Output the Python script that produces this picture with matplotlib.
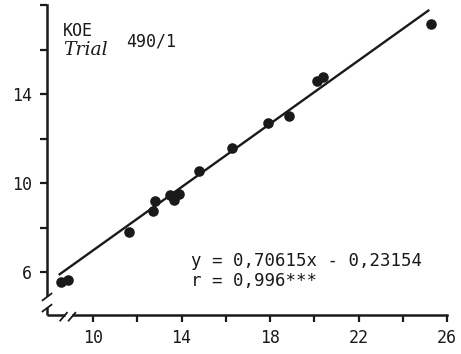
import matplotlib
matplotlib.use("Agg")
import matplotlib.pyplot as plt

# data
x_vals = [8.55, 8.87, 11.63, 12.71, 12.81, 13.48, 13.67, 13.89, 14.80, 16.29,
          17.92, 18.87, 20.14, 20.41, 25.29]
y_vals = [5.55, 5.64, 7.80, 8.74, 9.19, 9.46, 9.24, 9.51, 10.54, 11.57,
          12.70, 13.01, 14.58, 14.76, 17.15]
line_x = [8.45, 25.2]
line_y = [5.87, 17.78]
x_ticks = [10, 12, 14, 16, 18, 20, 22, 24, 26]
x_labels = ["10", "", "14", "", "18", "", "22", "", "26"]
y_ticks = [6, 8, 10, 12, 14, 16, 18]
y_labels = ["6", "", "10", "", "14", "", ""]
eq_text = "y = 0,70615x - 0,23154"
r_text = "r = 0,996***"

mono = "DejaVu Sans Mono"
ink = "#1a1a1a"

fig = plt.figure(figsize=(4.61, 3.54), dpi=100)
ax = fig.add_axes([47/461, 1-315/354, 400/461, 310/354])
xmin, xmax = 7.92, 26.0
ymin, ymax = 4.07, 18.0
ax.set_xlim(xmin, xmax)
ax.set_ylim(ymin, ymax)

ax.scatter(x_vals, y_vals, s=58, color=ink, zorder=3, linewidths=0)
ax.plot(line_x, line_y, color=ink, lw=1.7, solid_capstyle="butt")

for s in ["top", "right"]:
    ax.spines[s].set_visible(False)
ax.spines["left"].set_bounds(4.95, ymax)
ax.spines["bottom"].set_bounds(9.1, xmax)
for s in ["left", "bottom"]:
    ax.spines[s].set_linewidth(1.8)
    ax.spines[s].set_color(ink)

# lower stubs of broken axes
ax.plot([xmin, xmin], [ymin, 4.45], color=ink, lw=1.8, clip_on=False, solid_capstyle="butt")
ax.plot([xmin, 8.72], [ymin, ymin], color=ink, lw=1.8, clip_on=False, solid_capstyle="butt")
# break marks
for dy in (4.45, 4.95):
    ax.plot([xmin-0.2, xmin+0.2], [dy-0.22, dy+0.08], color=ink, lw=1.3, clip_on=False)
for dx in (8.72, 9.1):
    ax.plot([dx-0.2, dx+0.1], [ymin-0.25, ymin+0.1], color=ink, lw=1.3, clip_on=False)

ax.set_xticks(x_ticks)
ax.set_xticklabels(x_labels)
ax.set_yticks(y_ticks)
ax.set_yticklabels(y_labels)
ax.tick_params(direction="out", length=5, width=1.6, color=ink, labelcolor=ink)
ax.tick_params(axis="x", pad=5)
ax.tick_params(axis="y", pad=6)
for lab in ax.get_xticklabels() + ax.get_yticklabels():
    lab.set_family(mono)
    lab.set_fontsize(12)

def px(xp, yp):
    # figure pixel -> figure fraction
    return xp/461, 1-yp/354

fig.text(*px(63, 31), "KOE", family=mono, fontsize=12, color=ink, va="center", ha="left")
fig.text(*px(63, 50), "Trial", family="DejaVu Serif", style="italic", fontsize=13.5, color=ink, va="center", ha="left")
fig.text(*px(126, 41), "490/1", family=mono, fontsize=12, color=ink, va="center", ha="left")
fig.text(*px(191, 261), eq_text, family=mono, fontsize=12.5, color=ink, va="center", ha="left")
fig.text(*px(191, 281), r_text, family=mono, fontsize=12.5, color=ink, va="center", ha="left")

fig.savefig("out.png", dpi=100, facecolor="white")
